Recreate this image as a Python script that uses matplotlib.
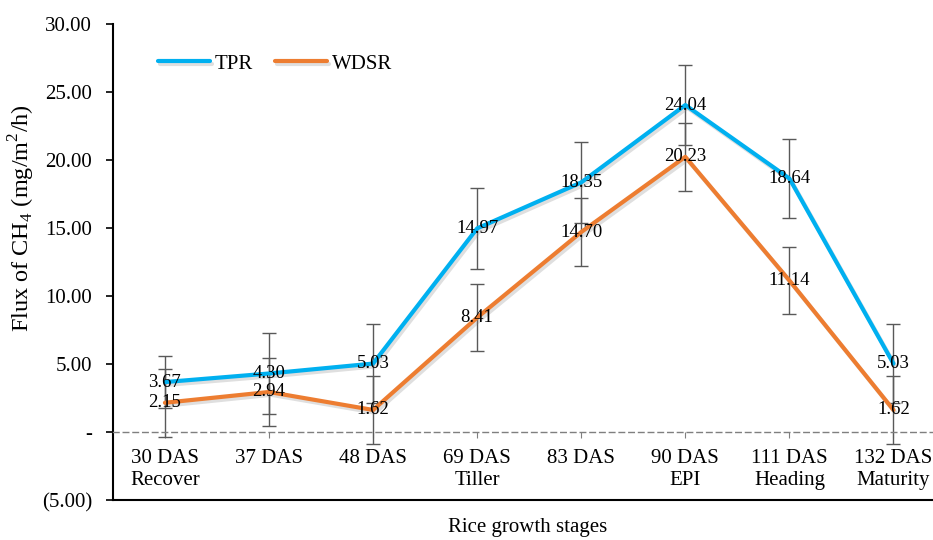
import matplotlib
matplotlib.use('Agg')
import matplotlib.pyplot as plt
import matplotlib.patheffects as pe
from matplotlib.ticker import FuncFormatter
import numpy as np

plt.rcParams['font.family'] = ['Liberation Serif', 'DejaVu Serif']
plt.rcParams['mathtext.fontset'] = 'custom'
plt.rcParams['mathtext.rm'] = 'Liberation Serif'

# CH4 flux per sampling date
stages = ['30 DAS\nRecover', '37 DAS', '48 DAS', '69 DAS\nTiller', '83 DAS',
          '90 DAS\nEPI', '111 DAS\nHeading', '132 DAS\nMaturity']
tpr = [3.67, 4.30, 5.03, 14.97, 18.35, 24.04, 18.64, 5.03]
wdsr = [2.15, 2.94, 1.62, 8.41, 14.70, 20.23, 11.14, 1.62]
tpr_err = [1.93, 2.98, 2.91, 2.97, 2.95, 2.95, 2.90, 2.91]
wdsr_err = [2.49, 2.50, 2.50, 2.47, 2.48, 2.48, 2.49, 2.50]

fig = plt.figure(figsize=(9.33, 5.4), dpi=100)
ax = fig.add_axes([0.121, 0.0741, 0.879, 0.8815])

x = np.arange(len(stages))
shadow = [pe.SimpleLineShadow(offset=(1.5, -2), shadow_color='gray', alpha=0.25), pe.Normal()]

for vals, errs, col, name in [(tpr, tpr_err, '#00B0F0', 'TPR'),
                              (wdsr, wdsr_err, '#ED7D31', 'WDSR')]:
    ax.errorbar(x, vals, yerr=errs, fmt='none', ecolor='#595959', elinewidth=1,
                capsize=5, capthick=1, zorder=2)
    ax.plot(x, vals, color=col, lw=3, label=name, path_effects=shadow, zorder=3,
            solid_capstyle='round')
    for xi, v in zip(x, vals):
        ax.text(xi, v, f'{v:.2f}', ha='center', va='center', fontsize=13.5, zorder=4)

ax.set_xlim(-0.5, 7.38)
ax.set_ylim(-5, 30)
ax.set_yticks(np.arange(-5, 31, 5))


def yfmt(v, pos):
    if abs(v) < 1e-9:
        return '-'
    if v < 0:
        return f'({-v:.2f})'
    return f'{v:.2f}'


ax.yaxis.set_major_formatter(FuncFormatter(yfmt))

# category axis crosses at zero as a dashed line
ax.spines['top'].set_visible(False)
ax.spines['right'].set_visible(False)
ax.spines['bottom'].set_position(('data', 0))
ax.spines['bottom'].set_linestyle((0, (4, 3)))
ax.spines['bottom'].set_color('#7f7f7f')
ax.spines['bottom'].set_linewidth(1)
ax.spines['left'].set_linewidth(1.5)
ax.axhline(-5, color='black', lw=1.5, clip_on=False, zorder=1)

ax.set_xticks(x)
ax.set_xticklabels(stages, fontsize=15, linespacing=1.25)
ax.tick_params(axis='x', direction='out', length=4, color='#7f7f7f', pad=8)
ax.tick_params(axis='y', direction='out', length=5, width=1.2, labelsize=15, pad=10)

ax.set_ylabel('Flux of CH$_\\mathregular{4}$ (mg/m$^\\mathregular{2}$/h)', fontsize=17.5)
ax.yaxis.set_label_coords(-0.093, 0.592)
fig.text(0.566, 0.024, 'Rice growth stages', ha='center', va='center', fontsize=15)

ax.legend(loc='upper left', bbox_to_anchor=(0.032, 0.976), ncol=2, frameon=False,
          fontsize=15, handlelength=2.5, columnspacing=1.1, handletextpad=0.2)

fig.savefig('out.png', dpi=100)
